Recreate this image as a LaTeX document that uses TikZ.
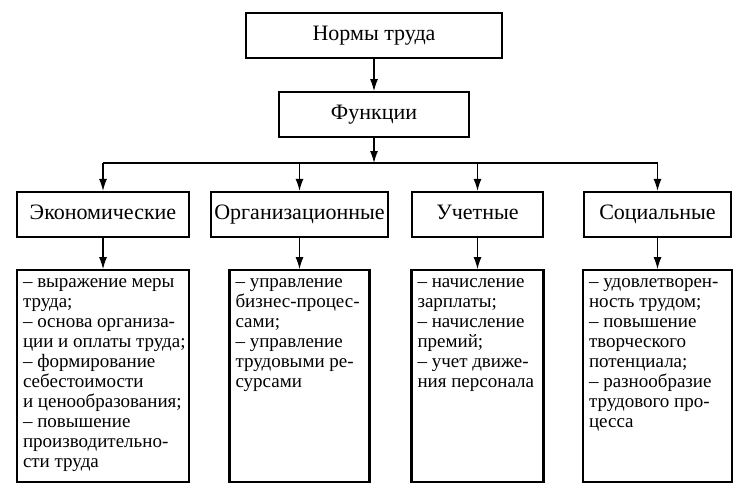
\documentclass[tikz,border=0pt]{standalone}
\usepackage{fontspec}
\setmainfont{Liberation Serif}
\usetikzlibrary{positioning,arrows.meta}
\tikzstyle{object}=[rectangle, draw=black, line width=2.2pt, text centered,
        minimum height=45pt, inner sep=2pt, text height=15pt, text depth=5pt,
        font=\fontsize{22}{24}\selectfont]
\tikzstyle{list}=[rectangle, draw=black, line width=2.2pt, inner xsep=6pt, inner ysep=3pt,
        font=\fontsize{19}{20}\selectfont]
\tikzstyle{link}=[line width=1.2pt, -{Latex[length=12pt,width=8pt]}]
\newcommand{\listtext}[2]{\parbox[t][206pt][t]{#1}{\begin{tabular}[t]{@{}l@{}}#2\end{tabular}}}

\begin{document}
\begin{tikzpicture}[x=1pt, y=-1pt, node distance=32pt]
        \useasboundingbox (0,0) rectangle (751,490);
        \node (Norms) [object, minimum width=256pt] at (374,35.5) {Нормы труда};
        \node (Functions) [object, minimum width=190pt, below=32pt of Norms] {Функции};
        \coordinate (bar) at (374,163);

        % groups of functions
        \node (Economic) [object, minimum width=172pt] at (103,214.5) {Экономические};
        \node (Organizational) [object, minimum width=177pt] at (299.5,214.5) {Организационные};
        \node (Accounting) [object, minimum width=131pt] at (477.5,214.5) {Учетные};
        \node (Social) [object, minimum width=147pt] at (657.5,214.5) {Социальные};

        \node (EconomicList) [list, below=31pt of Economic] {\listtext{160pt}{%
          – выражение меры\\ труда;\\ – основа организа-\\ ции и оплаты труда;\\
          – формирование\\ себестоимости\\ и ценообразования;\\ – повышение\\
          производительно-\\ сти труда}};
        \node (OrganizationalList) [list, below=31pt of Organizational] {\listtext{128pt}{%
          – управление\\ бизнес-процес-\\ сами;\\ – управление\\ трудовыми ре-\\ сурсами}};
        \node (AccountingList) [list, below=31pt of Accounting] {\listtext{120pt}{%
          – начисление\\ зарплаты;\\ – начисление\\ премий;\\ – учет движе-\\ ния персонала}};
        \node (SocialList) [list, below=31pt of Social] {\listtext{137pt}{%
          – удовлетворен-\\ ность трудом;\\ – повышение\\ творческого\\ потенциала;\\
          – разнообразие\\ трудового про-\\ цесса}};

        % connectors
        \draw[link] (Norms) -- (Functions);
        \draw[link] (Functions) -- (bar);
        \draw[line width=1.2pt] (bar -| Economic) -- (bar -| Social);
        \foreach \n in {Economic, Organizational, Accounting, Social}
        {
          \draw[link] (bar -| \n) -- (\n);
          \draw[link] (\n) -- (\n List);
        }
\end{tikzpicture}
\end{document}
